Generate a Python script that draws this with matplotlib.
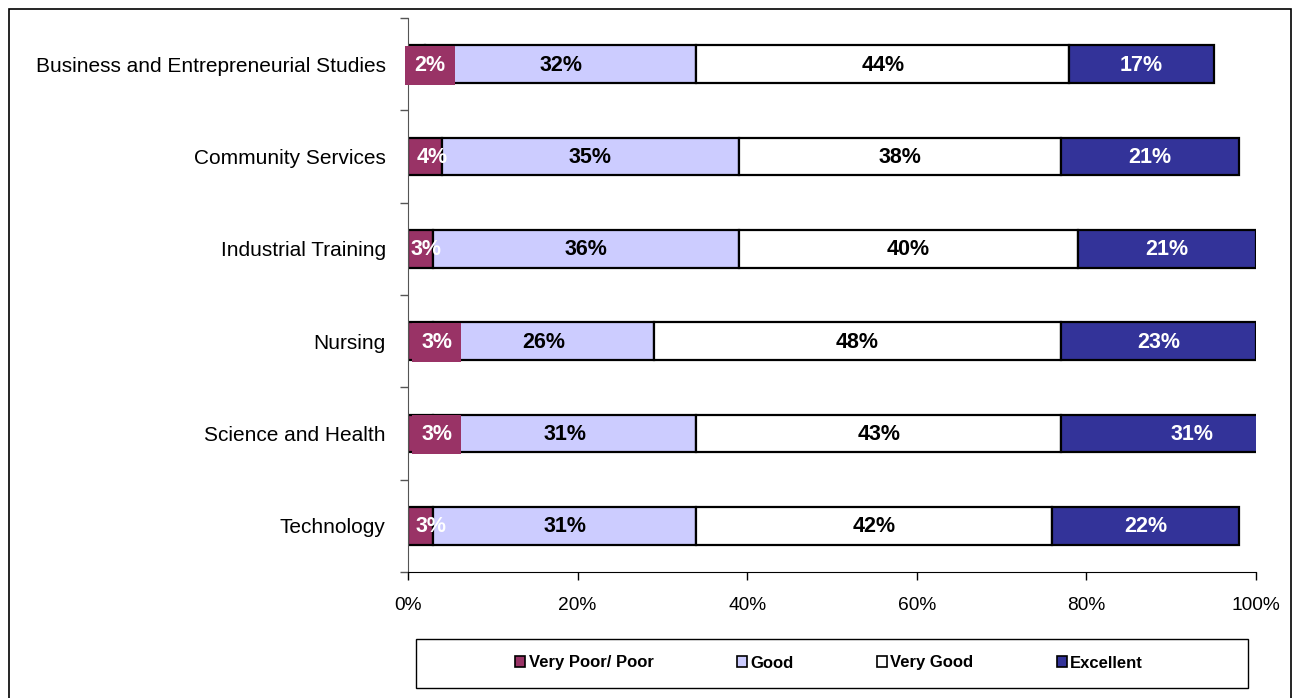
import matplotlib.pyplot as plt
import matplotlib.patches as mpatches
import numpy as np

plt.rcParams['font.family'] = ['Liberation Sans', 'DejaVu Sans']

# dados
programs = ["Business and Entrepreneurial Studies", "Community Services",
            "Industrial Training", "Nursing", "Science and Health", "Technology"]
poor = [2, 4, 3, 3, 3, 3]
good = [32, 35, 36, 26, 31, 31]
very_good = [44, 38, 40, 48, 43, 42]
excellent = [17, 21, 21, 23, 31, 22]
series_names = ["Very Poor/ Poor", "Good", "Very Good", "Excellent"]

# posicao dos rotulos da primeira serie (movidos a mao no original)
poor_label_x = [2.6, 2.9, 2.1, 3.4, 3.4, 2.7]
poor_label_box = [True, False, False, True, True, False]

colors = ['#993366', '#CCCCFF', '#FFFFFF', '#333399']
text_colors = ['white', 'black', 'black', 'white']

fig = plt.figure(figsize=(12.95, 6.98), dpi=100)
ax = fig.add_axes([408/1295, 1-572/698, (1256-408)/1295, (572-18)/698])

y = np.arange(len(programs))
left = np.zeros(len(programs))
height = 0.41
for k, vals in enumerate([poor, good, very_good, excellent]):
    vals = np.array(vals, dtype=float)
    ax.barh(y, vals, height, left=left, color=colors[k], edgecolor='black',
            linewidth=1.6, label=series_names[k], zorder=2)
    for i in range(len(programs)):
        if k == 0:
            xt = poor_label_x[i]
            bbox = dict(boxstyle='square,pad=0.42', fc=colors[0], ec='none') if poor_label_box[i] else None
        else:
            xt = left[i] + vals[i] / 2
            bbox = None
        ax.text(xt, y[i] + 0.01, f"{int(vals[i])}%", ha='center', va='center',
                color=text_colors[k], fontsize=15.5, fontweight='bold',
                bbox=bbox, zorder=4, clip_on=False)
    left = left + vals

ax.set_xlim(0, 100)
ax.set_ylim(len(programs) - 0.5, -0.5)
ax.set_xticks(np.arange(0, 101, 20))
ax.set_xticklabels([f"{v}%" for v in range(0, 101, 20)])
ax.set_yticks(y)
ax.set_yticklabels(programs)
ax.set_yticks(np.arange(-0.5, len(programs)), minor=True)
ax.tick_params(axis='y', which='major', length=0, pad=16, labelsize=15)
ax.tick_params(axis='y', which='minor', length=6, color='#555555', width=1)
ax.tick_params(axis='x', length=6, width=1, labelsize=13.8, pad=12)
ax.spines['top'].set_visible(False)
ax.spines['right'].set_visible(False)
ax.spines['left'].set_color('#555555')
ax.spines['bottom'].set_color('black')

# legenda com moldura propria
fig.patches.append(mpatches.Rectangle((416/1295, 1-688/698), (1248-416)/1295, (688-639)/698,
                                      transform=fig.transFigure, fill=False,
                                      edgecolor='black', linewidth=1))
handles, labels = ax.get_legend_handles_labels()
leg = fig.legend(handles, labels, loc='center', ncol=4,
                 bbox_to_anchor=(829/1295, 1-663/698), frameon=False,
                 handlelength=0.6, handleheight=0.6, handletextpad=0.2,
                 columnspacing=5.0, prop={'weight': 'bold', 'size': 12})
for h in leg.legend_handles:
    h.set_linewidth(1.2)

# borda da figura
fig.patches.append(mpatches.Rectangle((8.5/1295, -0.02), (1291-8.5)/1295, 1.02-8.5/698,
                                      transform=fig.transFigure, fill=False,
                                      edgecolor='black', linewidth=1.2))

plt.savefig('out.png', dpi=100)
